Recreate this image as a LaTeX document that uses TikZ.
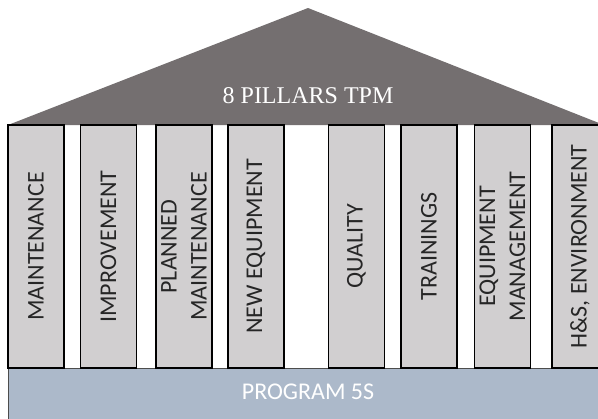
\documentclass[tikz,border=0pt]{standalone}
\usepackage{fontspec}
\setmainfont{Liberation Serif}
\setsansfont{Carlito}

\definecolor{roofgray}{RGB}{116,111,112}
\definecolor{pillargray}{RGB}{209,207,208}
\definecolor{baseblue}{RGB}{172,185,202}

\tikzset{
  pillar/.style={draw=black, line width=0.8pt, fill=pillargray, rotate=90,
    minimum width=182.25pt, minimum height=42pt, inner sep=0pt, align=center,
    text=black!85, font=\sffamily\fontsize{18}{22.5}\selectfont},
  roofbox/.style={fill=roofgray},
  basebox/.style={draw=black!70, line width=0.6pt, fill=baseblue},
  rooftext/.style={text=white, inner sep=0pt, font=\rmfamily\fontsize{18}{22}\selectfont},
  basetext/.style={text=white, inner sep=0pt, font=\sffamily\fontsize{18}{22}\selectfont}
}

\begin{document}
\begin{tikzpicture}[x=0.75pt,y=0.75pt,yscale=-1,xscale=1]
\useasboundingbox (0,0) rectangle (598,418);
\clip (0,0) rectangle (598,418);

% roof
\fill[roofbox] (8,125) -- (308,8) -- (604,125) -- cycle;
\node[rooftext] (title) at (308,96) {8 PILLARS TPM};

% foundation
\draw[basebox] (8,368) rectangle (606,424);
\node[basetext] (prog) at (308,392) {PROGRAM 5S};

% pillars
\node[pillar] (p1) at (36,246.5) {MAINTENANCE};
\node[pillar] (p2) at (108.5,246.5) {IMPROVEMENT};
\node[pillar] (p3) at (184,246.5) {PLANNED\\MAINTENANCE};
\node[pillar] (p4) at (256,246.5) {NEW EQUIPMENT};
\node[pillar] (p5) at (356.5,246.5) {QUALITY};
\node[pillar] (p6) at (429,246.5) {TRAININGS};
\node[pillar] (p7) at (502.5,246.5) {EQUIPMENT\\MANAGEMENT};
\node[pillar] (p8) at (580,246.5) {H\&S, ENVIRONMENT};

\end{tikzpicture}
\end{document}
